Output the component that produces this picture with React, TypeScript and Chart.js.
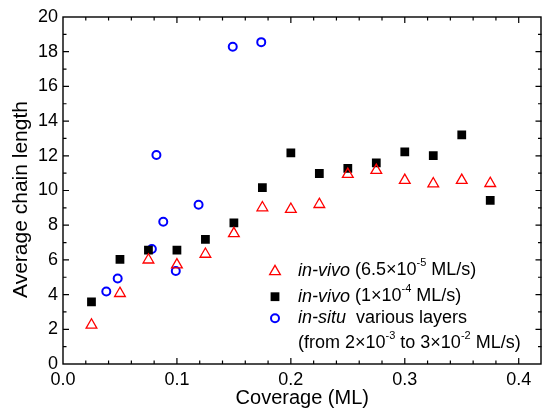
import React, { useEffect, useRef } from "react";
import { Chart, registerables } from "chart.js";
Chart.register(...registerables);

const FONT = "'Liberation Sans', Arial, sans-serif";

const xTicks = [0, 0.1, 0.2, 0.3, 0.4];
const xMinorStep = 0.02;
const yTicks = [0, 2, 4, 6, 8, 10, 12, 14, 16, 18, 20];
const yMinorStep = 1;

const vivoSlowX = [0.025, 0.05, 0.075, 0.1, 0.125, 0.15, 0.175, 0.2, 0.225, 0.25, 0.275, 0.3, 0.325, 0.35, 0.375];
const vivoSlowY = [2.25, 4.07, 6.0, 5.72, 6.33, 7.52, 9.01, 8.92, 9.2, 10.93, 11.16, 10.59, 10.39, 10.59, 10.41];

const vivoFastX = [0.025, 0.05, 0.075, 0.1, 0.125, 0.15, 0.175, 0.2, 0.225, 0.25, 0.275, 0.3, 0.325, 0.35, 0.375];
const vivoFastY = [3.58, 6.03, 6.57, 6.57, 7.18, 8.14, 10.16, 12.17, 10.98, 11.28, 11.59, 12.22, 12.01, 13.2, 9.43];

const situX = [0.038, 0.048, 0.078, 0.088, 0.082, 0.099, 0.119, 0.149, 0.174];
const situY = [4.18, 4.93, 6.63, 8.2, 12.05, 5.36, 9.18, 18.29, 18.55];

const xTitle = "Coverage (ML)";
const yTitle = "Average chain length";

type Seg = { t: string; i?: boolean; sup?: boolean };
const legendLines: Seg[][] = [
  [{ t: "in-vivo", i: true }, { t: " (6.5×10" }, { t: "-5", sup: true }, { t: " ML/s)" }],
  [{ t: "in-vivo", i: true }, { t: " (1×10" }, { t: "-4", sup: true }, { t: " ML/s)" }],
  [{ t: "in-situ", i: true }, { t: "  various layers" }],
  [{ t: "(from 2×10" }, { t: "-3", sup: true }, { t: " to 3×10" }, { t: "-2", sup: true }, { t: " ML/s)" }],
];

const RED = "#ff0000";
const BLACK = "#000000";
const BLUE = "#0000ff";

const pts = (xs: number[], ys: number[]) => xs.map((x, k) => ({ x, y: ys[k] }));

const framePlugin = {
  id: "frame",
  beforeDatasetsDraw(chart: any) {
    const { ctx, chartArea: a, scales } = chart;
    const xs = scales.x;
    const ys = scales.y;
    ctx.save();
    ctx.strokeStyle = "#000";
    ctx.lineWidth = 1.4;
    ctx.strokeRect(a.left, a.top, a.right - a.left - 0.5, a.bottom - a.top);
    ctx.lineWidth = 1.2;
    const major = 6;
    const minor = 3.5;
    for (let k = 0; k * xMinorStep <= xs.max + 1e-9; k++) {
      const v = k * xMinorStep;
      const isMajor = xTicks.some((t) => Math.abs(t - v) < 1e-9);
      const px = xs.getPixelForValue(v);
      if (px <= a.left + 0.5 || px >= a.right - 0.5) continue;
      const L = isMajor ? major : minor;
      ctx.beginPath();
      ctx.moveTo(px, a.bottom);
      ctx.lineTo(px, a.bottom - L);
      ctx.moveTo(px, a.top);
      ctx.lineTo(px, a.top + L);
      ctx.stroke();
    }
    for (let k = 0; k * yMinorStep <= ys.max + 1e-9; k++) {
      const v = k * yMinorStep;
      const isMajor = yTicks.some((t) => Math.abs(t - v) < 1e-9);
      const py = ys.getPixelForValue(v);
      if (py <= a.top + 0.5 || py >= a.bottom - 0.5) continue;
      const L = isMajor ? major : minor;
      ctx.beginPath();
      ctx.moveTo(a.left, py);
      ctx.lineTo(a.left + L, py);
      ctx.moveTo(a.right, py);
      ctx.lineTo(a.right - L, py);
      ctx.stroke();
    }
    ctx.restore();
  },
};

function drawMarker(ctx: CanvasRenderingContext2D, style: string, x: number, y: number) {
  ctx.save();
  if (style === "triangle") {
    const r = 6.2;
    ctx.strokeStyle = RED;
    ctx.lineWidth = 1.3;
    ctx.beginPath();
    ctx.moveTo(x, y - r);
    ctx.lineTo(x + r * Math.sin(Math.PI * 2 / 3), y + r * 0.5);
    ctx.lineTo(x - r * Math.sin(Math.PI * 2 / 3), y + r * 0.5);
    ctx.closePath();
    ctx.stroke();
  } else if (style === "rect") {
    const s = 4.4;
    ctx.fillStyle = BLACK;
    ctx.fillRect(x - s, y - s, 2 * s, 2 * s);
  } else {
    ctx.strokeStyle = BLUE;
    ctx.lineWidth = 2;
    ctx.beginPath();
    ctx.arc(x, y, 4, 0, Math.PI * 2);
    ctx.stroke();
  }
  ctx.restore();
}

const textPlugin = {
  id: "texts",
  afterDraw(chart: any) {
    const { ctx, chartArea: a } = chart;
    ctx.save();
    ctx.fillStyle = "#000";
    ctx.font = `20px ${FONT}`;
    ctx.textAlign = "center";
    ctx.textBaseline = "alphabetic";
    ctx.fillText(xTitle, (a.left + a.right) / 2, 404);
    ctx.save();
    ctx.translate(27, (a.top + a.bottom) / 2 + 9);
    ctx.rotate(-Math.PI / 2);
    ctx.font = `21px ${FONT}`;
    ctx.textBaseline = "alphabetic";
    ctx.fillText(yTitle, 0, 0);
    ctx.restore();

    const lx = 298;
    const lineY = [270.5, 296.5, 318, 343];
    const markers = ["triangle", "rect", "circle"];
    const markerY = [271.5, 296.7, 318.3];
    markers.forEach((m, k) => drawMarker(ctx, m, 275, markerY[k]));
    ctx.textAlign = "left";
    legendLines.forEach((segs, k) => {
      let x = lx;
      const y = lineY[k];
      segs.forEach((s) => {
        if (s.sup) {
          ctx.font = `11px ${FONT}`;
          ctx.textBaseline = "middle";
          ctx.fillText(s.t, x, y - 7.5);
        } else {
          ctx.font = `${s.i ? "italic " : ""}18px ${FONT}`;
          ctx.textBaseline = "middle";
          ctx.fillText(s.t, x, y);
        }
        x += ctx.measureText(s.t).width;
      });
    });
    ctx.restore();
  },
};

export default function App() {
  const ref = useRef<HTMLCanvasElement | null>(null);
  useEffect(() => {
    document.body.style.margin = "0";
    const canvas = ref.current!;
    const chart = new Chart(canvas, {
      type: "scatter",
      data: {
        datasets: [
          {
            label: "in-vivo (6.5×10-5 ML/s)",
            data: pts(vivoSlowX, vivoSlowY),
            pointStyle: "triangle",
            pointRadius: 6.2,
            pointBorderWidth: 1.3,
            borderColor: RED,
            backgroundColor: "rgba(0,0,0,0)",
            pointBackgroundColor: "rgba(0,0,0,0)",
            pointBorderColor: RED,
          },
          {
            label: "in-vivo (1×10-4 ML/s)",
            data: pts(vivoFastX, vivoFastY),
            pointStyle: "rect",
            pointRadius: 6.2,
            pointBorderWidth: 0,
            borderColor: BLACK,
            backgroundColor: BLACK,
            pointBackgroundColor: BLACK,
            pointBorderColor: BLACK,
          },
          {
            label: "in-situ various layers",
            data: pts(situX, situY),
            pointStyle: "circle",
            pointRadius: 4,
            pointBorderWidth: 2,
            borderColor: BLUE,
            backgroundColor: "rgba(0,0,0,0)",
            pointBackgroundColor: "rgba(0,0,0,0)",
            pointBorderColor: BLUE,
          },
        ],
      },
      options: {
        responsive: false,
        animation: false,
        devicePixelRatio: 1,
        layout: { padding: { top: 17, right: 0, left: 0, bottom: 0 } },
        plugins: { legend: { display: false }, tooltip: { enabled: false }, title: { display: false } },
        scales: {
          x: {
            type: "linear",
            min: 0,
            max: 0.42,
            grid: { display: false, drawTicks: false },
            border: { display: false },
            afterBuildTicks: (s: any) => {
              s.ticks = xTicks.map((v) => ({ value: v }));
            },
            afterFit: (s: any) => {
              s.height = 46;
            },
            ticks: {
              padding: 5,
              color: "#000",
              font: { family: FONT, size: 18 },
              maxRotation: 0,
              autoSkip: false,
              callback: (v: any) => Number(v).toFixed(1),
            },
          },
          y: {
            type: "linear",
            min: 0,
            max: 20,
            grid: { display: false, drawTicks: false },
            border: { display: false },
            afterBuildTicks: (s: any) => {
              s.ticks = yTicks.map((v) => ({ value: v }));
            },
            afterFit: (s: any) => {
              s.width = 63;
            },
            ticks: {
              padding: 5,
              color: "#000",
              font: { family: FONT, size: 18 },
              autoSkip: false,
              callback: (v: any) => String(v),
            },
          },
        },
      },
      plugins: [framePlugin, textPlugin],
    } as any);
    return () => chart.destroy();
  }, []);
  return <canvas ref={ref} width={549} height={410} style={{ display: "block", width: 549, height: 410 }} />;
}
